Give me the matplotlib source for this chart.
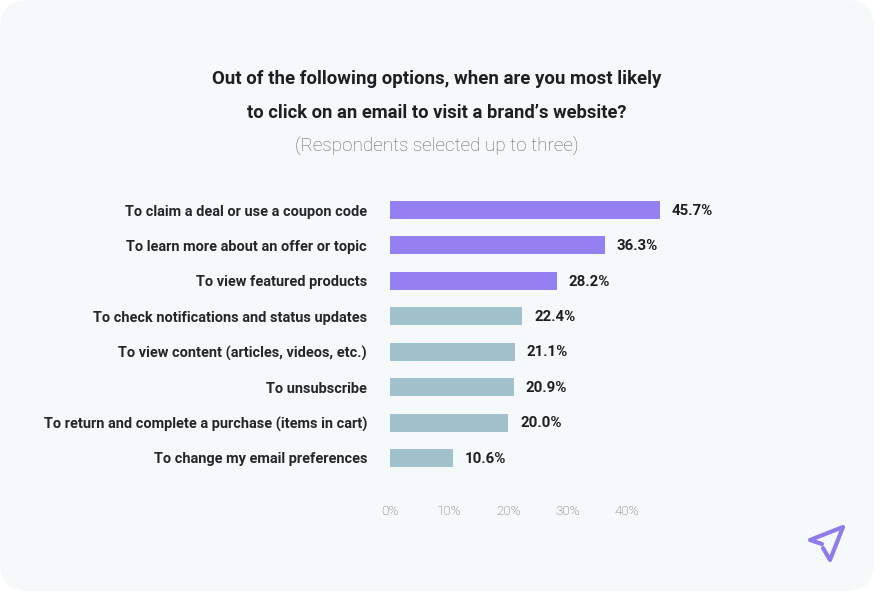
import matplotlib
matplotlib.use('Agg')
from matplotlib import pyplot as plt
from matplotlib.patches import FancyBboxPatch
from matplotlib.lines import Line2D

plt.rcParams['font.family'] = ['Roboto', 'DejaVu Sans']

labels = ['To claim a deal or use a coupon code',
          'To learn more about an offer or topic',
          'To view featured products',
          'To check notifications and status updates',
          'To view content (articles, videos, etc.)',
          'To unsubscribe',
          'To return and complete a purchase (items in cart)',
          'To change my email preferences']
values = [45.7, 36.3, 28.2, 22.4, 21.1, 20.9, 20.0, 10.6]
colors = ['#9580f2', '#9580f2', '#9580f2', '#a1c1cc', '#a1c1cc', '#a1c1cc', '#a1c1cc', '#a1c1cc']
xticks = [0, 10, 20, 30, 40]

W, H = 874, 591
fig = plt.figure(figsize=(W / 100, H / 100), dpi=100, facecolor='white')

# background card with round corners
bg = fig.add_axes([0, 0, 1, 1], zorder=0)
bg.set_xlim(0, W)
bg.set_ylim(H, 0)
bg.axis('off')
bg.add_patch(FancyBboxPatch((28, 28), W - 56, H - 56, boxstyle='round,pad=28,rounding_size=28',
                            fc='#f6f9fa', ec='none'))

# axes placed so 0% is at x=390 and bars are centred on their rows
left, right = 390, 685
top, bottom = 192.3, 475.7
ax = fig.add_axes([left / W, 1 - bottom / H, (right - left) / W, (bottom - top) / H], zorder=1)
ax.patch.set_alpha(0)
ax.barh(range(len(values)), values, height=0.51, color=colors)
ax.set_xlim(0, (right - left) / 5.91)
ax.set_ylim(len(values) - 0.5, -0.5)

for i, v in enumerate(values):
    ax.text(v + 2, i + 0.02, '%.1f%%' % v, va='center', ha='left', fontsize=10.8, fontweight='bold', color='#1c1f24')

ax.set_yticks(range(len(values)))
ax.set_yticklabels(labels, fontsize=10.48, fontweight='bold', color='#23262b')
ax.set_xticks(xticks)
ax.set_xticklabels(['%d%%' % t for t in xticks], fontsize=9.6, color='#5f656a', fontweight='light')
ax.tick_params(axis='y', length=0, pad=23 * 0.72)
ax.tick_params(axis='x', length=0, pad=36 * 0.72 - 4.5)
for s in ax.spines.values():
    s.set_visible(False)

# title block
bg.text(437, 79.5, 'Out of the following options, when are you most likely', ha='center', va='center',
        fontsize=13.4, fontweight='bold', color='#1c1f24')
bg.text(437, 113.5, 'to click on an email to visit a brand\u2019s website?', ha='center', va='center',
        fontsize=13.25, fontweight='bold', color='#1c1f24')
bg.text(437, 146.5, '(Respondents selected up to three)', ha='center', va='center',
        fontsize=13.6, color='#5f656a', fontweight='light')

# paper plane logo
bg.add_line(Line2D([822, 810, 843, 830, 823], [544, 540, 527, 560, 548],
                   color='#8f7bea', lw=3, solid_joinstyle='round', solid_capstyle='round'))

fig.savefig('out.png', dpi=100, facecolor='white')
